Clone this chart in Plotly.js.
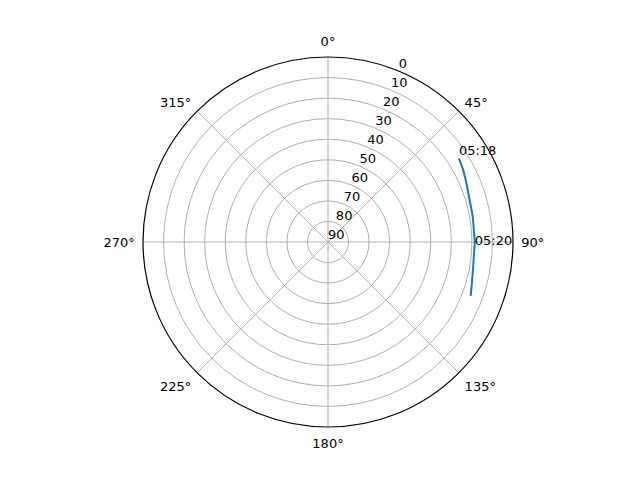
<!DOCTYPE html>
<html>
<head>
<meta charset="utf-8">
<script src="https://cdn.plot.ly/plotly-3.0.1.min.js"></script>
<style>html,body{margin:0;padding:0;background:#fff}#chart{width:640px;height:480px}</style>
</head>
<body>
<div id="chart"></div>
<script>
// satellite pass: azimuth (deg) and elevation (deg)
const azimuth = [57.4, 61.7, 66.5, 71.9, 80, 90, 100.7, 106, 110.7];
const elevation = [14.4, 15.4, 16.7, 17.9, 18.5, 18.6, 18.2, 17.2, 15.8];
const labelAz = [57.4, 90];
const labelEl = [14.4, 18.6];
const labelText = ['05:18', '05:20'];
const radialTicks = [0, 10, 20, 30, 40, 50, 60, 70, 80, 90];
const radialLabelAngle = 22.5;
const angleTicks = [0, 45, 90, 135, 180, 225, 270, 315];

const font = {family: 'DejaVu Sans', size: 13, color: '#000'};

let data = [
	{
		type: 'scatterpolar',
		r: elevation,
		theta: azimuth,
		mode: 'lines',
		line: {color: '#1f77b4', width: 2},
		hoverinfo: 'skip'
	},
	{
		type: 'scatterpolar',
		r: labelEl,
		theta: labelAz,
		mode: 'text',
		text: labelText,
		textposition: ['top right', 'middle right'],
		textfont: font,
		cliponaxis: false
	},
	// radial tick labels, matplotlib style (horizontal, at 22.5°)
	{
		type: 'scatterpolar',
		r: radialTicks,
		theta: radialTicks.map(() => radialLabelAngle),
		mode: 'text',
		text: radialTicks.map(String),
		textposition: 'top right',
		textfont: font,
		cliponaxis: false
	}
];

let layout = {
	width: 640,
	height: 480,
	showlegend: false,
	paper_bgcolor: '#fff',
	margin: {l: 0, r: 0, t: 0, b: 0},
	font: font,
	polar: {
		domain: {x: [143 / 640, 513 / 640], y: [53 / 480, 423 / 480]},
		bgcolor: '#fff',
		radialaxis: {
			range: [90, 0],
			tickvals: radialTicks,
			showticklabels: false,
			showline: false,
			ticks: '',
			gridcolor: '#b0b0b0',
			gridwidth: 1
		},
		angularaxis: {
			rotation: 90,
			direction: 'clockwise',
			tickvals: angleTicks,
			ticktext: angleTicks.map(a => a + '°'),
			ticks: 'outside',
			ticklen: 5,
			tickcolor: 'rgba(0,0,0,0)',
			showline: true,
			linecolor: '#000',
			linewidth: 1.2,
			gridcolor: '#b0b0b0',
			gridwidth: 1,
			tickfont: font
		}
	}
};

Plotly.newPlot('chart', data, layout, {staticPlot: true});
</script>
</body>
</html>
